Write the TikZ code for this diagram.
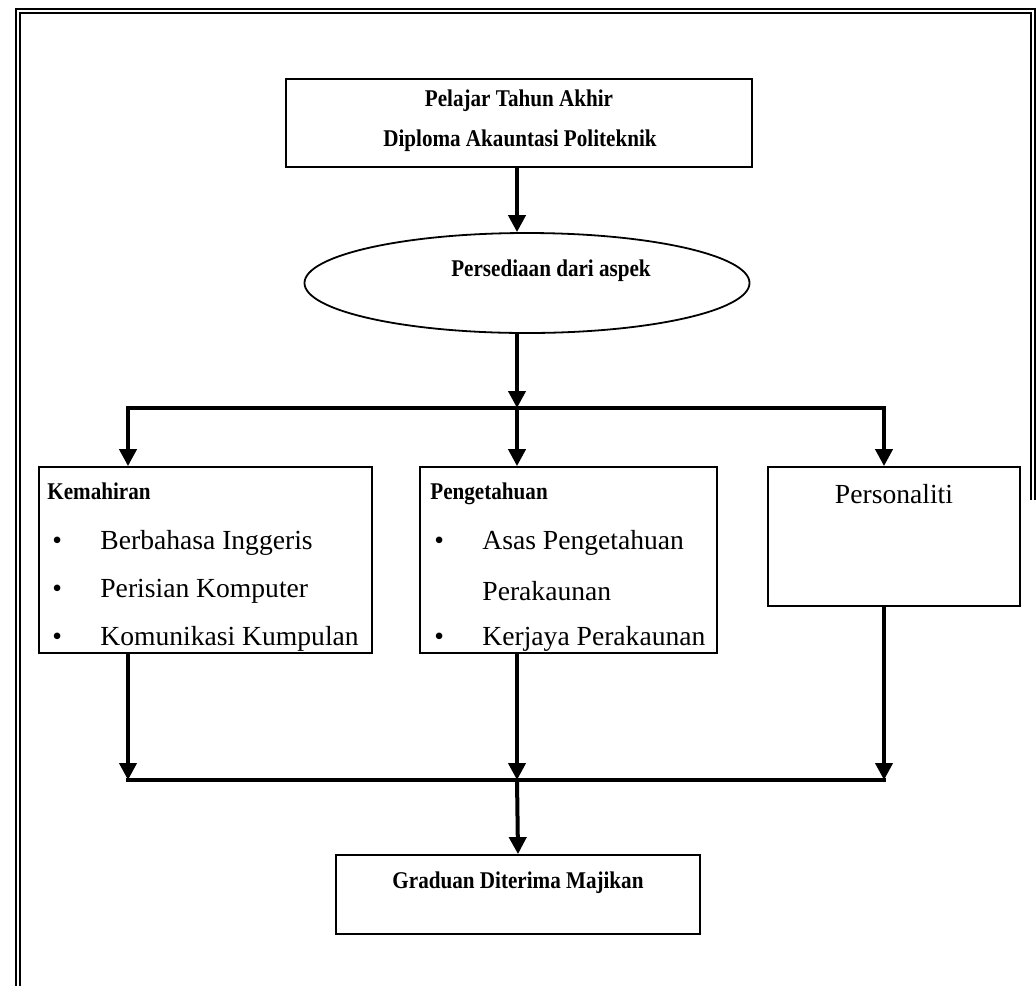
\documentclass[tikz,border=0pt]{standalone}
\usepackage{fontspec}
\setmainfont{Liberation Serif}
\newfontfamily\tajukfont[FakeStretch=0.88]{Liberation Serif}
\usetikzlibrary{arrows.meta,shapes.geometric}

\tikzset{
	kotak/.style={draw, line width=0.9pt, inner sep=0pt},
	tajuk/.style={font=\tajukfont\fontsize{12}{14}\selectfont\bfseries, inner sep=0pt},
	isi/.style={anchor=west, inner sep=0pt},
	anak/.style={-{Triangle[length=8.5pt, width=8.5pt]}, line width=2pt},
	garis/.style={line width=2pt, line cap=rect}
}

\begin{document}
\begin{tikzpicture}[x=0.5pt, y=-0.5pt, font=\fontsize{13.8}{16}\selectfont]

		\useasboundingbox (0,0) rectangle (1036,986);

		% bingkai
		\draw[double, line width=0.6pt, double distance=1.4pt] (18,986) -- (18,11) -- (1033,11) -- (1033,500);

		\node[kotak, minimum width=233pt, minimum height=44pt] (pelajar) at (519,123) {};
		\node[tajuk] (pelajarA) at (519,101) {Pelajar Tahun Akhir};
		\node[tajuk] (pelajarB) at (520,141) {Diploma Akauntasi Politeknik};

		\node[kotak, ellipse, minimum width=222.5pt, minimum height=50pt] (persediaan) at (527,283) {};
		\node[tajuk] (persediaanA) at (551,271) {Persediaan dari aspek};

		\node[kotak, minimum width=166.5pt, minimum height=93pt] (kemahiran) at (205.5,560) {};
		\node[kotak, minimum width=148.5pt, minimum height=93pt] (pengetahuan) at (568.5,560) {};
		\node[kotak, minimum width=126pt, minimum height=69.5pt] (personaliti) at (894,536.5) {};
		\node[kotak, minimum width=182pt, minimum height=39.5pt] (graduan) at (518,894.5) {};

		% kemahiran
		\node[tajuk, anchor=base west] (kemA) at (47,499) {Kemahiran};
		\node[isi] (kemB1) at (52,543) {\textbullet};
		\node[isi] (kemB2) at (52,591) {\textbullet};
		\node[isi] (kemB3) at (52,639) {\textbullet};
		\node[isi] (kemT1) at (100,543) {Berbahasa Inggeris};
		\node[isi] (kemT2) at (100,591) {Perisian Komputer};
		\node[isi] (kemT3) at (100,639) {Komunikasi Kumpulan};

		% pengetahuan
		\node[tajuk, anchor=base west] (pengA) at (430,499) {Pengetahuan};
		\node[isi] (pengB1) at (434,543) {\textbullet};
		\node[isi] (pengB2) at (434,639) {\textbullet};
		\node[isi] (pengT1) at (482,543) {Asas Pengetahuan};
		\node[isi] (pengT2) at (482,591) {Perakaunan};
		\node[isi] (pengT3) at (482,639) {Kerjaya Perakaunan};

		\node[inner sep=0pt] (persA) at (894,494) {Personaliti};

		\node[tajuk] (gradA) at (518,883) {Graduan Diterima Majikan};

		\coordinate (atas) at (517,408);
		\coordinate (kiri) at (128,408);
		\coordinate (kanan) at (884,408);
		\coordinate (bawah) at (517,780);
		\coordinate (kiri2) at (128,780);
		\coordinate (kanan2) at (884,780);

		\draw[anak] (pelajar.south -| atas) -- (persediaan.north -| atas);
		\draw[anak] (persediaan.south -| atas) -- (atas);
		\draw[garis] (kiri) -- (kanan);
		\draw[anak] (kiri) -- (kemahiran.north -| kiri);
		\draw[anak] (atas) -- (pengetahuan.north -| atas);
		\draw[anak] (kanan) -- (personaliti.north -| kanan);

		\draw[anak] (kemahiran.south -| kiri2) -- (kiri2);
		\draw[anak] (pengetahuan.south -| bawah) -- (bawah);
		\draw[anak] (personaliti.south -| kanan2) -- (kanan2);
		\draw[garis] (kiri2) -- (kanan2);
		\draw[anak] (bawah) -- (graduan.north);

\end{tikzpicture}
\end{document}
